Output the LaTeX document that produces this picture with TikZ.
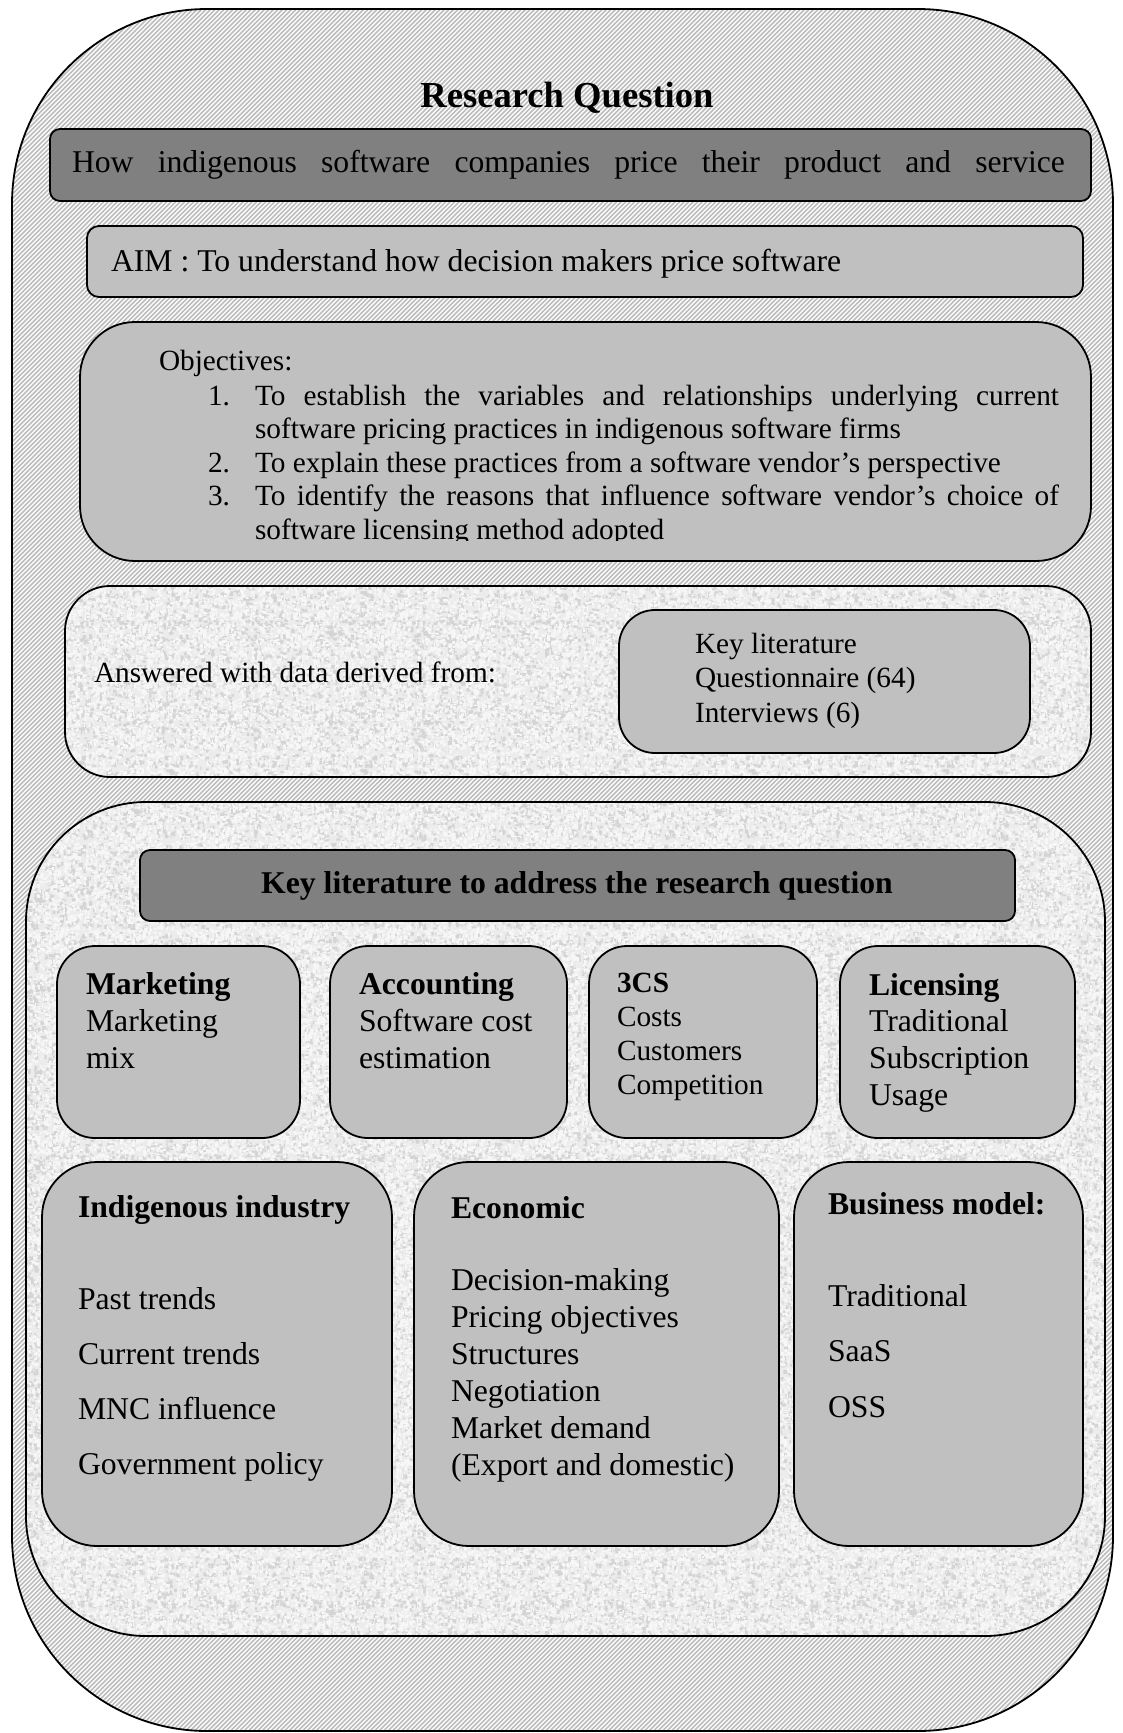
\documentclass[tikz,border=0pt]{standalone}
\usepackage{fontspec}
\setmainfont{Liberation Serif}
\usetikzlibrary{patterns}
\definecolor{boxdark}{HTML}{808080}
\definecolor{boxlight}{HTML}{C0C0C0}
\definecolor{paper}{HTML}{ECECEC}
\definecolor{speckgray}{HTML}{D4D4D4}
\definecolor{hatchgray}{HTML}{BDBDBD}
% text sizes
\newcommand\fsTitle{\fontsize{36.6pt}{42pt}\selectfont\bfseries}
\newcommand\fsBig{\fontsize{31.7pt}{37pt}\selectfont}
\newcommand\fsSmall{\fontsize{29.3pt}{33.7pt}\selectfont}
% rounded panel given by its corners: style, name, x1, y1, x2, y2
\newcommand\panel[6]{\node[#1, minimum width={(#5-#3)*1pt}, minimum height={(#6-#4)*1pt}, inner sep=0pt, outer sep=0pt] (#2) at ({(#3+#5)/2},{(#4+#6)/2}) {};}
% mottled paper grain, as two repeating tiles of random flecks
\pgfdeclarepatternformonly{grainA}{\pgfqpoint{0pt}{0pt}}{\pgfqpoint{97pt}{89pt}}{\pgfqpoint{97pt}{89pt}}{%
  \pgfmathsetseed{5}%
  \foreach \k in {1,...,520}{%
    \pgfmathsetmacro\sx{rnd*95}\pgfmathsetmacro\sy{rnd*87}%
    \pgfmathsetmacro\sw{1+rnd*3}\pgfmathsetmacro\sh{1+rnd*3}%
    \pgfpathrectangle{\pgfpoint{\sx pt}{\sy pt}}{\pgfpoint{\sw pt}{\sh pt}}%
    \pgfusepath{fill}%
  }%
}
\pgfdeclarepatternformonly{grainB}{\pgfqpoint{0pt}{0pt}}{\pgfqpoint{83pt}{101pt}}{\pgfqpoint{83pt}{101pt}}{%
  \pgfmathsetseed{17}%
  \foreach \k in {1,...,700}{%
    \pgfmathsetmacro\sx{rnd*81}\pgfmathsetmacro\sy{rnd*99}%
    \pgfmathsetmacro\sw{1+rnd*2.6}\pgfmathsetmacro\sh{1+rnd*2.6}%
    \pgfpathrectangle{\pgfpoint{\sx pt}{\sy pt}}{\pgfpoint{\sw pt}{\sh pt}}%
    \pgfusepath{fill}%
  }%
}
\begin{document}
\begin{tikzpicture}[x=1pt, y=-1pt,
  frame/.style={draw=black, line width=1.8pt},
  darkbox/.style={frame, fill=boxdark, rounded corners=10pt},
  lightbox/.style={frame, fill=boxlight},
  grainbox/.style={preaction={fill=paper}, preaction={pattern=grainA, pattern color=speckgray},
    preaction={pattern=grainB, pattern color=white!97!black}, frame},
  txt/.style={anchor=base west, inner sep=0pt, outer sep=0pt},
  hatch/.style={draw=hatchgray, line width=1.7pt},
]
\useasboundingbox (0,0) rectangle (1123,1733);
\fill[white] (0,0) rectangle (1123,1733);

% outer hatched frame
\begin{scope}
  \clip[rounded corners=195pt] (12,9) rectangle (1113,1731);
  \foreach \i in {-1745,-1740.5,...,1130}{
    \draw[hatch] (\i,1740) -- ++(1750,-1750);
  }
\end{scope}
\node[frame, rounded corners=195pt, minimum width=1101pt, minimum height=1722pt, inner sep=0pt] (outer) at (562.5,870) {};

% title and research question
\node[anchor=base, inner sep=0pt] (title) at (567,107) {\fsTitle Research Question};
\panel{darkbox}{question}{50}{129}{1091}{201}
\node[txt] (qtext) at (72,172) {\fsBig\makebox[993pt][s]{How indigenous software companies price their product and service}};

% aim
\panel{lightbox, rounded corners=12pt}{aim}{87}{226}{1083}{297}
\node[txt] (aimtext) at (111,271) {\fsBig AIM : To understand how decision makers price software};

% objectives
\panel{lightbox, rounded corners=55pt}{objectives}{80}{322}{1091}{561}
\begin{scope}
  \clip (80,322) rectangle (1091,540);
  \node[txt] (objhead) at (159,370) {\fsSmall Objectives:};
  \node[txt] (n1) at (208,405) {\fsSmall 1.};
  \node[txt] (o1a) at (255,405) {\fsSmall\makebox[804pt][s]{To establish the variables and relationships underlying current}};
  \node[txt] (o1b) at (255,438) {\fsSmall software pricing practices in indigenous software firms};
  \node[txt] (n2) at (208,472) {\fsSmall 2.};
  \node[txt] (o2) at (255,472) {\fsSmall To explain these practices from a software vendor’s perspective};
  \node[txt] (n3) at (208,505) {\fsSmall 3.};
  \node[txt] (o3a) at (255,505) {\fsSmall\makebox[804pt][s]{To identify the reasons that influence software vendor’s choice of}};
  \node[txt] (o3b) at (255,539) {\fsSmall software licensing method adopted};
\end{scope}

% data sources panel
\panel{grainbox, rounded corners=45pt}{data}{65}{586}{1091}{777}
\node[txt] (answered) at (94,682) {\fsSmall Answered with data derived from:};
\panel{lightbox, rounded corners=36pt}{sources}{619}{610}{1030}{753}
\node[txt] (srctext) at (695,653) {\parbox[t]{320pt}{\fontsize{29.3pt}{34.5pt}\selectfont Key literature\\Questionnaire (64)\\Interviews (6)}};

% key literature panel
\panel{grainbox, rounded corners=120pt}{lit}{26}{802}{1105}{1636}
\panel{darkbox}{lithead}{140}{850}{1015}{921}
\node[anchor=base, inner sep=0pt] (litheadtext) at (577,893) {\fsBig\bfseries Key literature to address the research question};

% first row of topics
\panel{lightbox, rounded corners=38pt}{marketing}{57}{946}{300}{1138}
\panel{lightbox, rounded corners=38pt}{accounting}{330}{946}{567}{1138}
\panel{lightbox, rounded corners=38pt}{threecs}{589}{946}{817}{1138}
\panel{lightbox, rounded corners=38pt}{licensing}{840}{946}{1075}{1138}
\node[txt] (mktext) at (86,994.5) {\parbox[t]{210pt}{\fsBig\textbf{Marketing}\\Marketing\\mix}};
\node[txt] (actext) at (359,994.5) {\parbox[t]{210pt}{\fsBig\textbf{Accounting}\\Software cost\\estimation}};
\node[txt] (cstext) at (617,992) {\parbox[t]{200pt}{\fontsize{29.3pt}{34.2pt}\selectfont\textbf{3CS}\\Costs\\Customers\\Competition}};
\node[txt] (litext) at (869,995) {\parbox[t]{200pt}{\fontsize{31.7pt}{36.8pt}\selectfont\textbf{Licensing}\\Traditional\\Subscription\\Usage}};

% second row of topics
\panel{lightbox, rounded corners=55pt}{industry}{42}{1162}{392}{1546}
\panel{lightbox, rounded corners=55pt}{economic}{414}{1162}{779}{1546}
\panel{lightbox, rounded corners=55pt}{business}{794}{1162}{1083}{1546}
\node[txt] (indhead) at (78,1217) {\fsBig\bfseries Indigenous industry};
\node[txt] (indtext) at (78,1309) {\parbox[t]{300pt}{\fontsize{31.7pt}{55.3pt}\selectfont Past trends\\Current trends\\MNC influence\\Government policy}};
\node[txt] (ecohead) at (451,1218) {\fsBig\bfseries Economic};
\node[txt] (ecotext) at (451,1290) {\parbox[t]{320pt}{\fontsize{31.7pt}{37pt}\selectfont Decision-making\\Pricing objectives\\Structures\\Negotiation\\Market demand\\(Export and domestic)}};
\node[txt] (bushead) at (828,1214) {\fsBig\bfseries Business model:};
\node[txt] (bustext) at (828,1306) {\parbox[t]{240pt}{\fontsize{31.7pt}{55.5pt}\selectfont Traditional\\SaaS\\OSS}};
\end{tikzpicture}
\end{document}
